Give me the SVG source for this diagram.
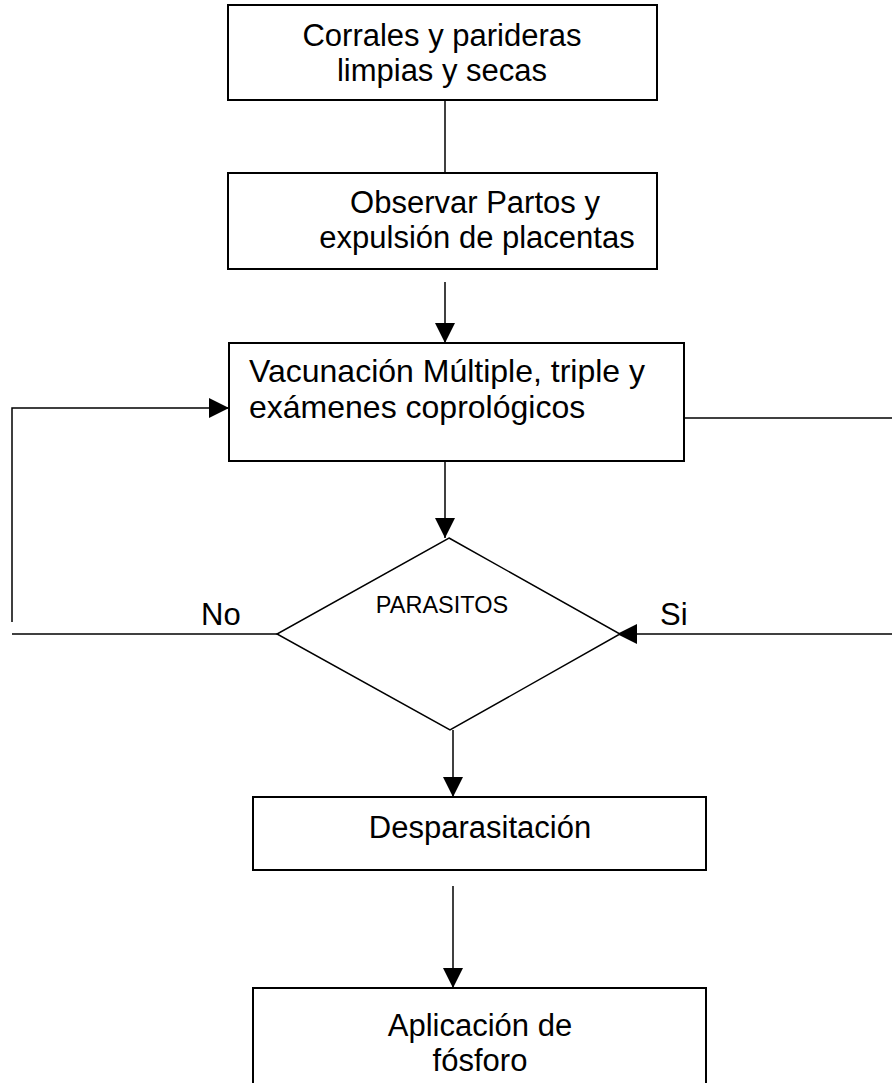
<svg xmlns="http://www.w3.org/2000/svg" width="892" height="1083" viewBox="0 0 892 1083">
<style>
.box{fill:#fff;stroke:#000;stroke-width:2}
.ln{fill:none;stroke:#000;stroke-width:1.5}
.t{font-family:"Liberation Sans",Arial,sans-serif;font-size:31px;fill:#000}
.t3{font-family:"Liberation Sans",Arial,sans-serif;font-size:32px;fill:#000}
.s{font-family:"Liberation Sans",Arial,sans-serif;font-size:23.5px;fill:#000}
</style>
<defs>
<marker id="ahb" markerWidth="20" markerHeight="20" refX="20" refY="10" orient="auto" markerUnits="userSpaceOnUse" viewBox="0 0 20 20">
<path d="M0,0 L20,10 L0,20 z" fill="#000"/>
</marker>
</defs>
<g id="connectors">
<line class="ln" x1="445" y1="100" x2="445" y2="173"/>
<line class="ln" x1="445" y1="282" x2="445" y2="343" marker-end="url(#ahb)"/>
<polyline class="ln" points="12,622 12,408 229,408" marker-end="url(#ahb)"/>
<line class="ln" x1="684" y1="418" x2="892" y2="418"/>
<line class="ln" x1="445" y1="461" x2="445" y2="538" marker-end="url(#ahb)"/>
<line class="ln" x1="12" y1="634" x2="277" y2="634"/>
<line class="ln" x1="892" y1="634" x2="617" y2="634" marker-end="url(#ahb)"/>
<line class="ln" x1="453" y1="730" x2="453" y2="797" marker-end="url(#ahb)"/>
<line class="ln" x1="453" y1="886" x2="453" y2="988" marker-end="url(#ahb)"/>
<text class="t" x="201" y="625">No</text>
<text class="t" x="660" y="625">Si</text>
</g>
<g id="n1">
<rect class="box" x="228" y="5" width="429" height="95"/>
<text class="t" x="442" y="46" text-anchor="middle">Corrales y parideras</text>
<text class="t" x="442" y="81" text-anchor="middle">limpias y secas</text>
</g>
<g id="n2">
<rect class="box" x="228" y="173" width="429" height="96"/>
<text class="t" x="475" y="213" text-anchor="middle">Observar Partos y</text>
<text class="t" x="477" y="248" text-anchor="middle">expulsión de placentas</text>
</g>
<g id="n3">
<rect class="box" x="229" y="343" width="455" height="118"/>
<text class="t3" x="249" y="382">Vacunación Múltiple, triple y</text>
<text class="t3" x="249" y="418">exámenes coprológicos</text>
</g>
<g id="n4">
<polygon class="box" points="449,538 620,634 450,730 277,634" style="stroke-width:1.5"/>
<text class="s" x="442" y="613" text-anchor="middle">PARASITOS</text>
</g>
<g id="n5">
<rect class="box" x="253" y="797" width="453" height="73"/>
<text class="t" x="480" y="838" text-anchor="middle">Desparasitación</text>
</g>
<g id="n6">
<rect class="box" x="253" y="988" width="453" height="100"/>
<text class="t" x="480" y="1036" text-anchor="middle">Aplicación de</text>
<text class="t" x="480" y="1071" text-anchor="middle">fósforo</text>
</g>
</svg>
